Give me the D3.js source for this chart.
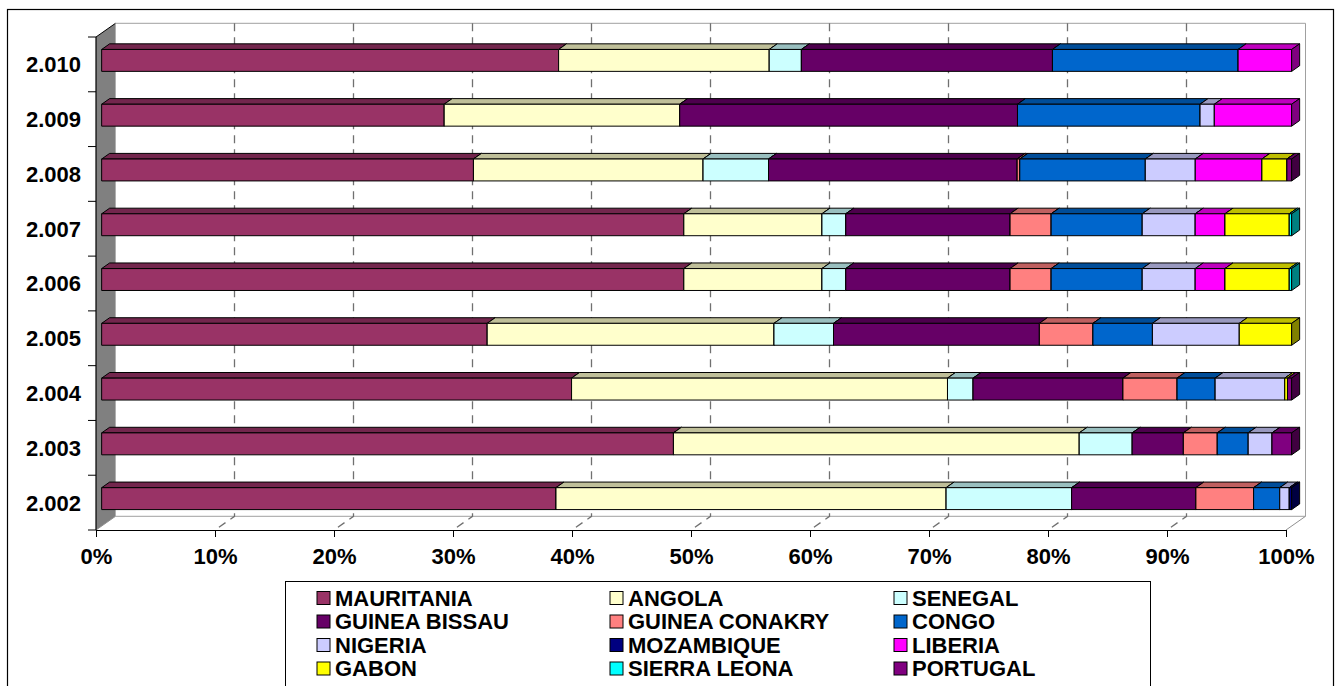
<!DOCTYPE html>
<html><head><meta charset="utf-8">
<script src="https://cdn.jsdelivr.net/npm/d3@7"></script>
<style>
body{margin:0;background:#fff}
svg{display:block;font-family:"Liberation Sans",Arial,sans-serif;font-weight:bold}
</style>
</head><body>
<svg id="chart" width="1342" height="686"></svg>
<script>
// ---- data (top row first) ----
const years = ["2.010","2.009","2.008","2.007","2.006","2.005","2.004","2.003","2.002"];
const countries = ["MAURITANIA","ANGOLA","SENEGAL","GUINEA BISSAU","GUINEA CONAKRY","CONGO",
                   "NIGERIA","MOZAMBIQUE","LIBERIA","GABON","SIERRA LEONA","PORTUGAL"];
const colors = ["#993366","#FFFFCC","#CCFFFF","#660066","#FF8080","#0066CC",
                "#CCCCFF","#000080","#FF00FF","#FFFF00","#00FFFF","#800080"];
const mauritania    = [38.4, 28.8, 31.25, 48.9, 48.9, 32.4, 39.5, 48.05, 38.2];
const angola        = [17.7, 19.8, 19.3, 11.6, 11.6, 24.1, 31.6, 34.1, 32.8];
const senegal       = [2.7, 0, 5.5, 2.0, 2.0, 5.0, 2.15, 4.45, 10.55];
const guineaBissau  = [21.1, 28.4, 20.9, 13.8, 13.8, 17.3, 12.6, 4.3, 10.45];
const guineaConakry = [0, 0, 0.22, 3.45, 3.45, 4.5, 4.55, 2.85, 4.85];
const congo         = [15.6, 15.35, 10.55, 7.65, 7.65, 5.0, 3.2, 2.6, 2.2];
const nigeria       = [0, 1.2, 4.2, 4.45, 4.45, 7.3, 5.85, 2.0, 0.8];
const mozambique    = [0, 0, 0, 0, 0, 0, 0, 0, 0.2];
const liberia       = [4.5, 6.5, 5.6, 2.5, 2.5, 0, 0, 0, 0];
const gabon         = [0, 0, 2.1, 5.4, 5.4, 4.4, 0.23, 0, 0];
const sierraLeona   = [0, 0, 0, 0.2, 0.2, 0, 0, 0, 0];
const portugal      = [0, 0, 0.4, 0, 0, 0, 0.35, 1.65, 0];
const tickLabels = ["0%","10%","20%","30%","40%","50%","60%","70%","80%","90%","100%"];

const seriesValues = [mauritania, angola, senegal, guineaBissau, guineaConakry, congo,
                      nigeria, mozambique, liberia, gabon, sierraLeona, portugal];
const rows = years.map((y, i) => {
  const r = {year: y};
  countries.forEach((c, k) => r[c] = seriesValues[k][i]);
  return r;
});
const stacked = d3.stack().keys(countries).offset(d3.stackOffsetExpand)(rows);

// ---- layout ----
const svg = d3.select("#chart");
const X0 = 96, X1 = 1286, YT = 37, YB = 530;
const DX = 19.5, DY = -13.7;       // full depth offset
const D1 = 0.29, D2 = 0.70;        // bar depth range

const x = d3.scaleLinear().domain([0, 1]).range([X0, X1]);
const yb = d3.scaleBand().domain(years).range([YT, YB]).paddingInner(0.6).paddingOuter(0.3);
const yc = d3.scaleBand().domain(years).range([YT, YB]).padding(0);

svg.append("rect").attr("x", 0).attr("y", 0).attr("width", 1342).attr("height", 686).attr("fill", "#fff");
// outer frame
svg.append("rect").attr("x", 7.5).attr("y", 9.5).attr("width", 1326).attr("height", 720)
  .attr("fill", "none").attr("stroke", "#000").attr("stroke-width", 1.2);

// left wall
svg.append("path")
  .attr("d", `M${X0},${YB}L${X0},${YT}L${X0+DX},${YT+DY}L${X0+DX},${YB+DY}Z`)
  .attr("fill", "#808080").attr("stroke", "none");
svg.append("path")
  .attr("d", `M${X0+DX},${YB+DY}L${X0+DX},${YT+DY}`)
  .attr("stroke", "#b0b0b0").attr("stroke-width", 1).attr("fill", "none");
svg.append("path")
  .attr("d", `M${X0},${YT}L${X0+DX},${YT+DY}`)
  .attr("stroke", "#000").attr("stroke-width", 1).attr("fill", "none");
// back wall edges and floor
svg.append("path")
  .attr("d", `M${X0+DX},${YT+DY}L${X1+DX},${YT+DY}L${X1+DX},${YB+DY}L${X0+DX},${YB+DY}`)
  .attr("stroke", "#a0a0a0").attr("stroke-width", 1).attr("fill", "none");
svg.append("path")
  .attr("d", `M${X0},${YB}L${X0+DX},${YB+DY}M${X1},${YB}L${X1+DX},${YB+DY}`)
  .attr("stroke", "#909090").attr("stroke-width", 1).attr("fill", "none");

// gridlines
const gridVals = d3.range(1, 10).map(i => i / 10);
svg.append("g").selectAll("path").data(gridVals).join("path")
  .attr("d", v => `M${x(v)+DX},${YT+DY}L${x(v)+DX},${YB+DY}L${x(v)},${YB}`)
  .attr("fill", "none").attr("stroke", "#707070").attr("stroke-width", 1.3)
  .attr("stroke-dasharray", "8,6");

// x axis
const xAxis = d3.axisBottom(x).tickValues(d3.range(0, 11).map(i => i / 10))
  .tickFormat((d, i) => tickLabels[i]).tickSize(7).tickSizeOuter(0);
const gx = svg.append("g").attr("transform", `translate(0,${YB})`).call(xAxis);
gx.select(".domain").attr("stroke", "#000").attr("stroke-width", 1.2);
gx.selectAll(".tick line").attr("stroke", "#000").attr("stroke-width", 1);
gx.selectAll(".tick text").attr("y", 34).attr("dy", null)
  .attr("font-size", 22).attr("font-weight", "bold").attr("fill", "#000")
  .attr("font-family", '"Liberation Sans",Arial,sans-serif');

// y axis line, ticks and labels
svg.append("line").attr("x1", X0).attr("x2", X0).attr("y1", YT).attr("y2", YB)
  .attr("stroke", "#000").attr("stroke-width", 1.2);
const bounds = years.map(y => yc(y)).concat([YB]);
svg.append("g").selectAll("line").data(bounds).join("line")
  .attr("x1", X0 - 8).attr("x2", X0).attr("y1", d => d).attr("y2", d => d)
  .attr("stroke", "#000").attr("stroke-width", 1);
svg.append("g").selectAll("text").data(years).join("text")
  .attr("x", 81).attr("y", d => yc(d) + yc.bandwidth() / 2).attr("dy", "0.36em")
  .attr("text-anchor", "end").attr("font-size", 22).attr("fill", "#000").text(d => d);

// bars
const shade = (c, f) => { const r = d3.rgb(c); return d3.rgb(r.r * f, r.g * f, r.b * f).formatHex(); };
const ddx = (D2 - D1) * DX, ddy = (D2 - D1) * DY;
const segs = [];
years.forEach((yr, ri) => {
  stacked.forEach((s, k) => {
    const v0 = s[ri][0], v1 = s[ri][1];
    if (v1 - v0 > 1e-6) segs.push({yr, k, v0, v1});
  });
});
const gb = svg.append("g").attr("stroke", "#000").attr("stroke-width", 1).attr("stroke-linejoin", "round");
const sg = gb.selectAll("g").data(segs).join("g");
sg.each(function(d) {
  const g = d3.select(this);
  const xa = x(d.v0) + D1 * DX, xb = x(d.v1) + D1 * DX;
  const yT = yb(d.yr) + D1 * DY, yB = yT + yb.bandwidth();
  const c = colors[d.k];
  g.append("path").attr("d", `M${xa},${yT}L${xa+ddx},${yT+ddy}L${xb+ddx},${yT+ddy}L${xb},${yT}Z`)
    .attr("fill", shade(c, 0.75));
  g.append("path").attr("d", `M${xa},${yT}L${xb},${yT}L${xb},${yB}L${xa},${yB}Z`)
    .attr("fill", c);
  g.append("path").attr("d", `M${xb},${yT}L${xb+ddx},${yT+ddy}L${xb+ddx},${yB+ddy}L${xb},${yB}Z`)
    .attr("fill", shade(c, 0.5));
});

// legend
const lg = svg.append("g");
lg.append("rect").attr("x", 285.5).attr("y", 581.5).attr("width", 865).attr("height", 140)
  .attr("fill", "#fff").attr("stroke", "#000").attr("stroke-width", 1);
const colX = [317, 610, 894];
const rowY = [598, 621.5, 645, 668.5];
const items = lg.selectAll("g.item").data(countries).join("g").attr("class", "item")
  .attr("transform", (d, i) => `translate(${colX[i % 3]},${rowY[Math.floor(i / 3)]})`);
items.append("rect").attr("x", 0).attr("y", -6.5).attr("width", 13).attr("height", 13)
  .attr("fill", (d, i) => colors[i]).attr("stroke", "#000").attr("stroke-width", 1);
items.append("text").attr("x", 18).attr("y", 0).attr("dy", "0.36em")
  .attr("font-size", 22).attr("fill", "#000").text(d => d);
</script>
</body></html>
